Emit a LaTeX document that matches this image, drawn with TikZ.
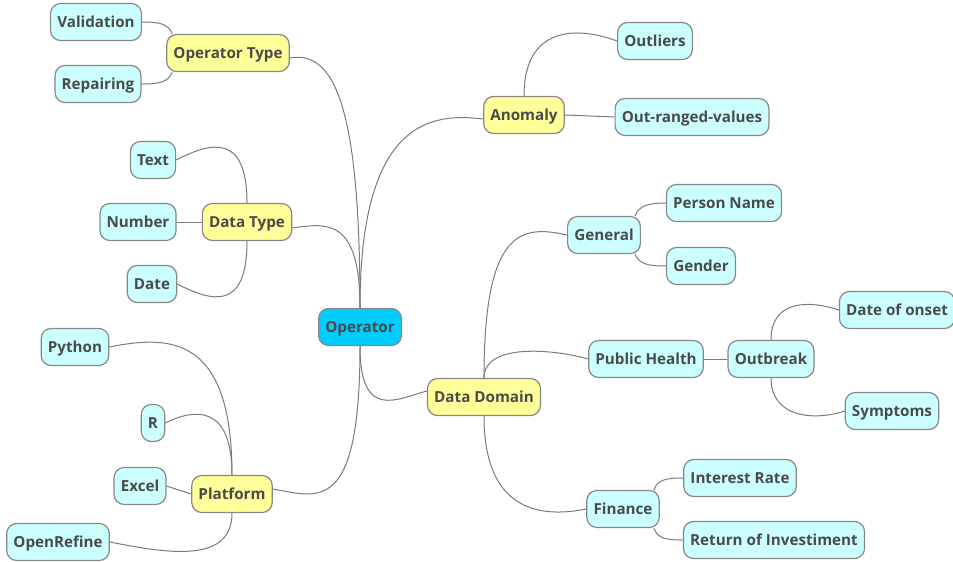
\documentclass[tikz,border=0pt]{standalone}
\usepackage{fontspec}
\setmainfont{Open Sans}
\definecolor{rootfill}{HTML}{00CCFF}
\definecolor{topicfill}{HTML}{FFFF99}
\definecolor{leaffill}{HTML}{CCFFFF}
\definecolor{boxline}{HTML}{878787}
\definecolor{linkline}{HTML}{7A7A7A}
\definecolor{txt}{HTML}{4A4A4A}

\begin{document}
\begin{tikzpicture}[x=1pt, y=-1pt,
        box/.style={draw=boxline, line width=1.2pt, rounded corners=10pt, minimum height=37pt,
            inner xsep=6.7pt, text height=12pt, text depth=1.2pt, text=txt,
            font=\fontsize{15.2}{18}\selectfont\bfseries},
        root/.style={box, fill=rootfill},
        topic/.style={box, fill=topicfill},
        leaf/.style={box, fill=leaffill},
        link/.style={draw=linkline, line width=1pt}]
        \useasboundingbox (0,0) rectangle (953,562);

        % centre
        \node[root] (op) at (360,327) {Operator};

        % left side
        \node[topic] (ot) at (228,53) {Operator Type};
        \node[leaf] (va) at (96,22) {Validation};
        \node[leaf] (re) at (98,84) {Repairing};

        \node[topic] (dt) at (247,222) {Data Type};
        \node[leaf] (tx) at (153,160) {Text};
        \node[leaf] (nu) at (138,222) {Number};
        \node[leaf] (da) at (152,284) {Date};

        \node[topic] (pf) at (232,494) {Platform};
        \node[leaf] (py) at (75,347) {Python};
        \node[leaf] (rr) at (153,423) {R};
        \node[leaf] (ex) at (140,486) {Excel};
        \node[leaf] (or) at (58,542) {OpenRefine};

        % right side
        \node[topic] (an) at (524,115) {Anomaly};
        \node[leaf] (ol) at (655,41) {Outliers};
        \node[leaf] (ov) at (692,117) {Out-ranged-values};

        \node[topic] (dd) at (484,397) {Data Domain};
        \node[leaf] (ge) at (604,235) {General};
        \node[leaf] (pn) at (724,203) {Person Name};
        \node[leaf] (gd) at (701,266) {Gender};
        \node[leaf] (ph) at (646,359) {Public Health};
        \node[leaf] (ob) at (771,359) {Outbreak};
        \node[leaf] (do) at (897,310) {Date of onset};
        \node[leaf] (sy) at (892,411) {Symptoms};
        \node[leaf] (fi) at (623,509) {Finance};
        \node[leaf] (ir) at (740,478) {Interest Rate};
        \node[leaf] (ri) at (774,540) {Return of Investiment};

        % main branches
        \draw[link] (op.north) .. controls +(0,-200) and +(45,-8) .. ([yshift=-5pt]ot.east);
        \draw[link] (op.north) .. controls +(0,-90) and +(35,-5) .. ([yshift=-6pt]dt.east);
        \draw[link] (op.north) .. controls +(0,-190) and +(-50,-6) .. ([yshift=-4pt]an.west);
        \draw[link] (op.south) .. controls +(0,170) and +(45,8) .. ([yshift=5pt]pf.east);
        \draw[link] (op.south) .. controls +(0,75) and +(-30,8) .. ([yshift=6pt]dd.west);

        % sub branches
        \draw[link] ([xshift=6pt]ot.north west) .. controls +(-4,-10) and +(18,0) .. (va.east);
        \draw[link] ([xshift=6pt]ot.south west) .. controls +(-4,10) and +(18,0) .. (re.east);
        \draw[link] (dt.north) .. controls +(0,-70) and +(35,-18) .. (tx.east);
        \draw[link] (nu.east) -- (dt.west);
        \draw[link] (dt.south) .. controls +(0,70) and +(35,18) .. (da.east);
        \draw[link] (pf.north) .. controls +(0,-140) and +(60,-12) .. (py.east);
        \draw[link] (pf.north) .. controls +(0,-70) and +(30,-15) .. (rr.east);
        \draw[link] (ex.east) -- (pf.west);
        \draw[link] (pf.south) .. controls +(0,50) and +(60,12) .. (or.east);
        \draw[link] (an.north) .. controls +(0,-70) and +(-40,-15) .. (ol.west);
        \draw[link] (an.east) -- (ov.west);
        \draw[link] (dd.north) .. controls +(0,-150) and +(-45,-10) .. (ge.west);
        \draw[link] (dd.north) .. controls +(0,-35) and +(-35,-10) .. (ph.west);
        \draw[link] (dd.south) .. controls +(0,100) and +(-40,8) .. (fi.west);
        \draw[link] ([xshift=-6pt]ge.north east) .. controls +(4,-10) and +(-18,0) .. (pn.west);
        \draw[link] ([xshift=-6pt]ge.south east) .. controls +(4,10) and +(-18,0) .. (gd.west);
        \draw[link] (ph.east) -- (ob.west);
        \draw[link] (ob.north) .. controls +(0,-40) and +(-30,-10) .. (do.west);
        \draw[link] (ob.south) .. controls +(0,40) and +(-30,10) .. (sy.west);
        \draw[link] ([xshift=-6pt]fi.north east) .. controls +(4,-10) and +(-18,0) .. (ir.west);
        \draw[link] ([xshift=-6pt]fi.south east) .. controls +(4,10) and +(-18,0) .. (ri.west);
    \end{tikzpicture}
\end{document}
